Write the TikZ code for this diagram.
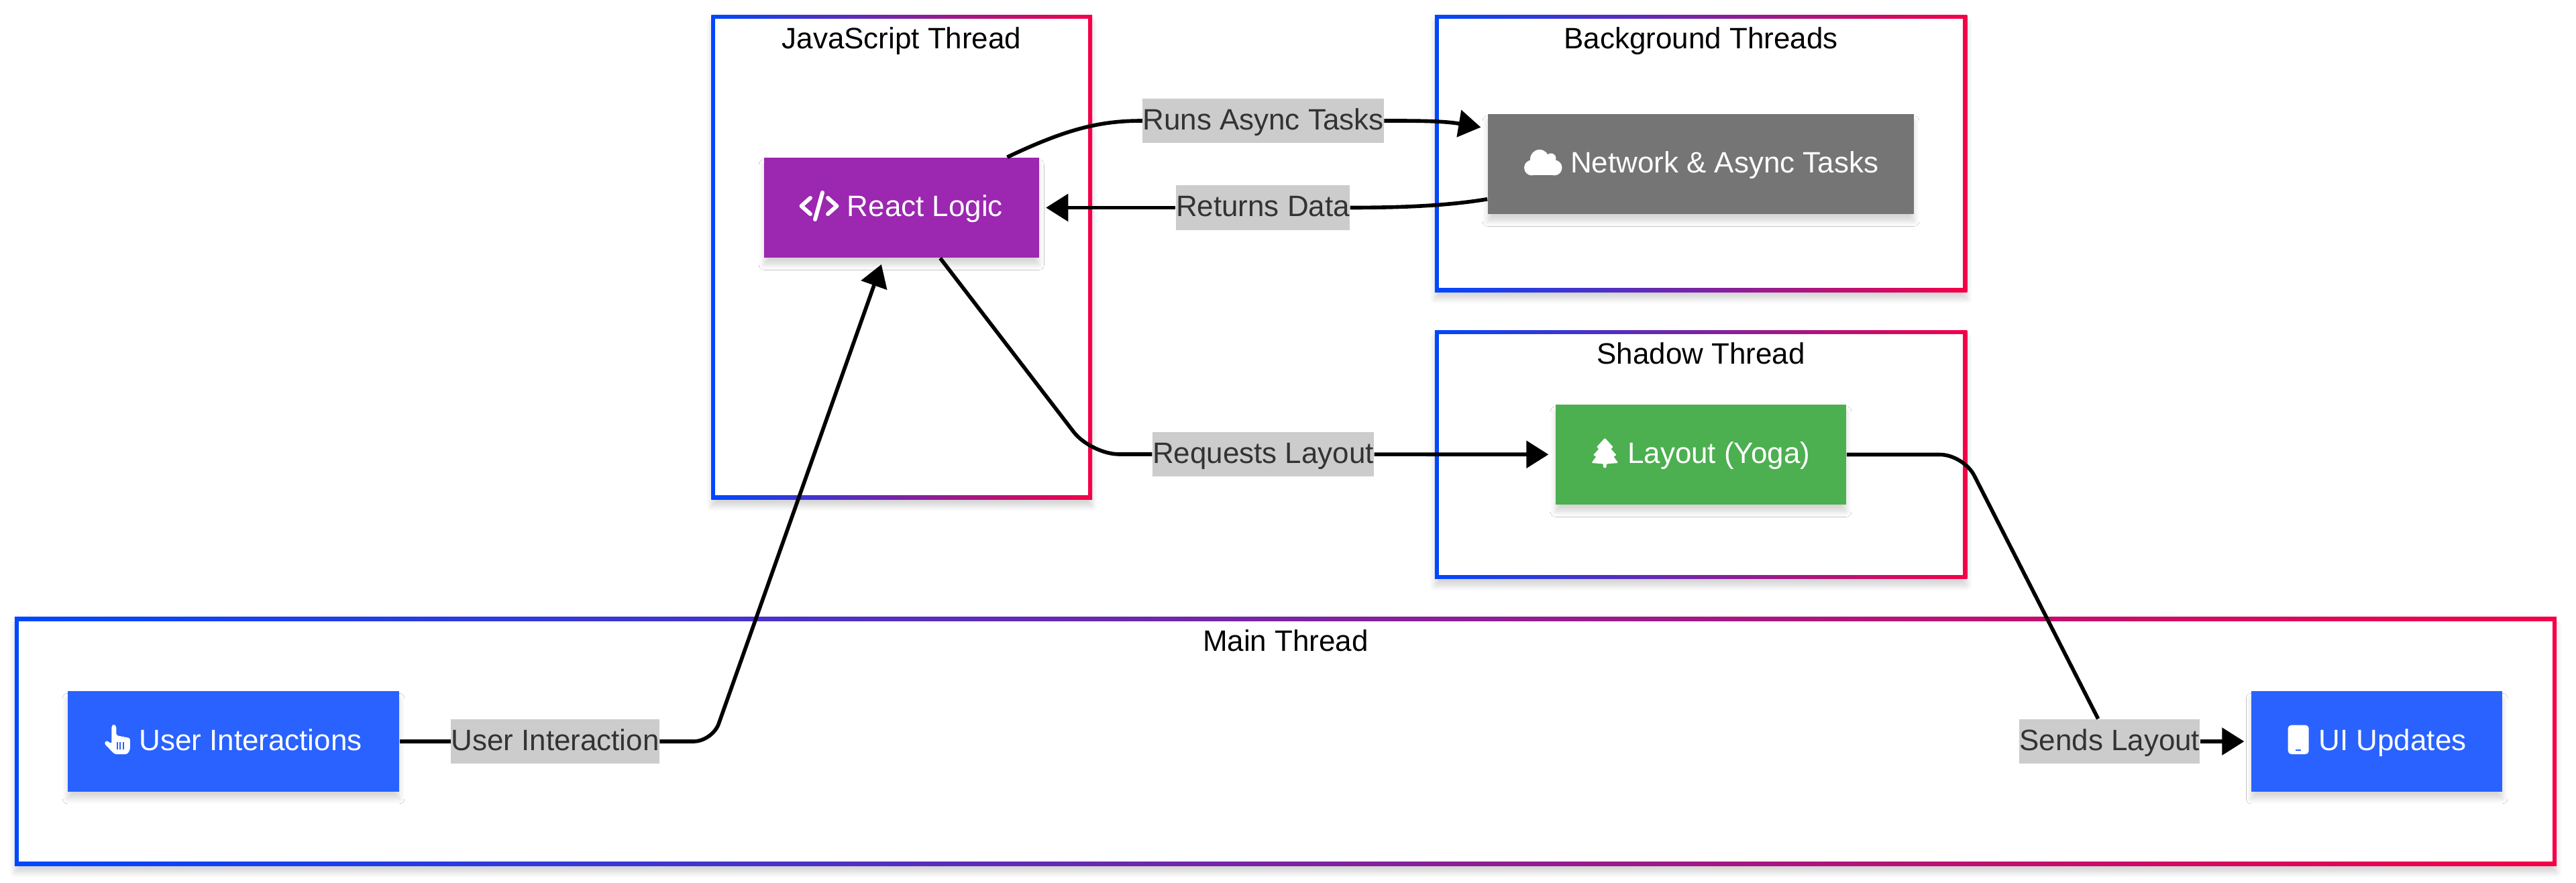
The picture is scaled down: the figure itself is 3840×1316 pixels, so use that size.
\documentclass[tikz,border=0pt]{standalone}
\usepackage{fontspec}
\setmainfont{Liberation Sans}
\usetikzlibrary{arrows.meta,shadows.blur}
\definecolor{threadblue}{HTML}{0047FF}
\definecolor{threadred}{HTML}{F50048}
\definecolor{usercol}{HTML}{2962FF}
\definecolor{reactcol}{HTML}{9C27B0}
\definecolor{netcol}{HTML}{757575}
\definecolor{yogacol}{HTML}{4CAF50}
\definecolor{lblgray}{HTML}{CCCCCC}
\definecolor{lbltext}{HTML}{333333}

\begin{document}
\begin{tikzpicture}[
   x=0.01cm,y=-0.01cm,
   softshadow/.style={blur shadow={shadow xshift=0pt,shadow yshift=-3pt,
    shadow blur radius=2.2pt,shadow blur steps=8,shadow opacity=16}},
   txt/.style={font=\fontsize{12.5}{15}\selectfont,text height=10pt,text depth=2.6pt},
   thread/.style={rectangle,inner sep=0pt,left color=threadblue,right color=threadred,
    softshadow,path picture={\fill[white]
    ([shift={(6,6)}]path picture bounding box.north west) rectangle
    ([shift={(-6,-6)}]path picture bounding box.south east);}},
   title/.style={txt,inner sep=0pt,text=black},
   box/.style={rectangle,txt,inner sep=0pt,text=white,minimum height=1.49cm,softshadow},
   lbl/.style={rectangle,txt,inner sep=0pt,fill=lblgray,text=lbltext,minimum height=0.66cm},
   edge/.style={draw=black,line width=1.6pt},
   arrow/.style={edge,-{Triangle[length=9.4pt,width=11.4pt]},shorten >=2.8pt},
   icon/.style={fill=white,draw=none},
   iconline/.style={draw=white,line width=1.7pt,line cap=round,line join=round},
   ]
    \useasboundingbox (0,0) rectangle (3840,1316);

    % Threads:
    \node[thread,minimum width=5.675cm,minimum height=7.217cm] at (1344.25,383.15) (js) {};
    \node[thread,minimum width=7.93cm,minimum height=4.127cm] at (2535.5,228.65) (bg) {};
    \node[thread,minimum width=7.93cm,minimum height=3.704cm] at (2535.5,677.5) (sh) {};
    \node[thread,minimum width=37.87cm,minimum height=3.7cm] at (1916.5,1105) (mainth) {};

    \node[title] at (1344,59.7) (jstitle) {JavaScript Thread};
    \node[title] at (2535.5,59.7) (bgtitle) {Background Threads};
    \node[title] at (2535.5,529.7) (shtitle) {Shadow Thread};
    \node[title] at (1916.5,957.4) (maintitle) {Main Thread};

    % Boxes:
    \node[box,fill=reactcol,minimum width=4.095cm] at (1343.75,309.5) (react) {\hspace*{20pt}React Logic};
    \node[box,fill=netcol,minimum width=6.35cm] at (2535.5,244.5) (net) {\hspace*{20pt}Network \& Async Tasks};
    \node[box,fill=yogacol,minimum width=4.33cm] at (2535.5,677.5) (yoga) {\hspace*{15.2pt}Layout (Yoga)};
    \node[box,fill=usercol,minimum width=4.94cm] at (348,1105) (user) {\hspace*{14.5pt}User Interactions};
    \node[box,fill=usercol,minimum width=3.74cm] at (3543,1105) (ui) {\hspace*{13.4pt}UI Updates};

    % Edge labels:
    \node[lbl] at (1883,180) (lblruns) {Runs Async Tasks};
    \node[lbl] at (1882.5,309.5) (lblret) {Returns Data};
    \node[lbl] at (1883,677) (lblreq) {Requests Layout};
    \node[lbl] at (827.5,1105) (lbluser) {User Interaction};
    \node[lbl] at (3144.75,1105) (lblsends) {Sends Layout};

    % bends
    \coordinate (bendu) at (1062,1105);
    \coordinate (bendr) at (1626,677);
    \coordinate (bendy) at (2927,677.5);

    % arrows
    \draw[edge] (user) -- (lbluser);
    \draw[arrow,rounded corners=8pt] (lbluser) -- (bendu) -- (react);
    \draw[edge] (react) .. controls (1590,192) and (1640,180) .. (lblruns);
    \draw[arrow] (lblruns) .. controls (2110,180) and (2150,180) .. (net);
    \draw[edge] (net) .. controls (2170,304.6) and (2110,309.5) .. (lblret);
    \draw[arrow] (lblret) -- (react);
    \draw[edge,rounded corners=12pt] (react) -- (bendr) -- (lblreq);
    \draw[arrow] (lblreq) -- (yoga);
    \draw[edge,rounded corners=10pt] (yoga) -- (bendy) -- (lblsends);
    \draw[arrow] (lblsends) -- (ui);

    % icons
    \draw[iconline] (1208,295) -- (1194.5,307) -- (1208,319);
    \draw[iconline] (1226,287) -- (1215,327);
    \draw[iconline] (1234,295) -- (1247.5,307) -- (1234,319);

    \fill[icon] (2283.5,250) circle (11.5);
    \fill[icon] (2295,237) circle (14);
    \fill[icon] (2312,236) circle (7.5);
    \fill[icon] (2317,250) circle (11.5);
    \fill[icon] (2283.5,240) rectangle (2317,261.5);

    \begin{scope}[shift={(2370,620)},scale=0.3333]
        \fill[icon,rounded corners=0.4pt] (67,98) -- (105,140) -- (93,146) -- (120,176) -- (105,180)
            -- (127,210) -- (74,214) -- (74,232) -- (60,232) -- (60,214) -- (7,210) -- (29,180)
            -- (14,176) -- (41,146) -- (29,140) -- cycle;
    \end{scope}

    \begin{scope}[shift={(140,1070)},scale=0.3333]
        \fill[icon,rounded corners=0.8pt] (79,36) -- (89,28) -- (100,36) -- (100,78) -- (162,90)
            -- (162,140) -- (150,162) -- (92,162) -- (46,114) -- (56,100) -- (79,116) -- cycle;
        \foreach \slot in {105,118,132} {
            \fill[usercol] (\slot-2.5,108) rectangle (\slot+2.5,140);
        }
    \end{scope}

    \begin{scope}[shift={(3400,1070)},scale=0.3333]
        \fill[icon,rounded corners=1.4pt] (32,32) rectangle (125,162);
        \fill[usercol] (66,142) rectangle (90,148);
    \end{scope}

\end{tikzpicture}
\end{document}
